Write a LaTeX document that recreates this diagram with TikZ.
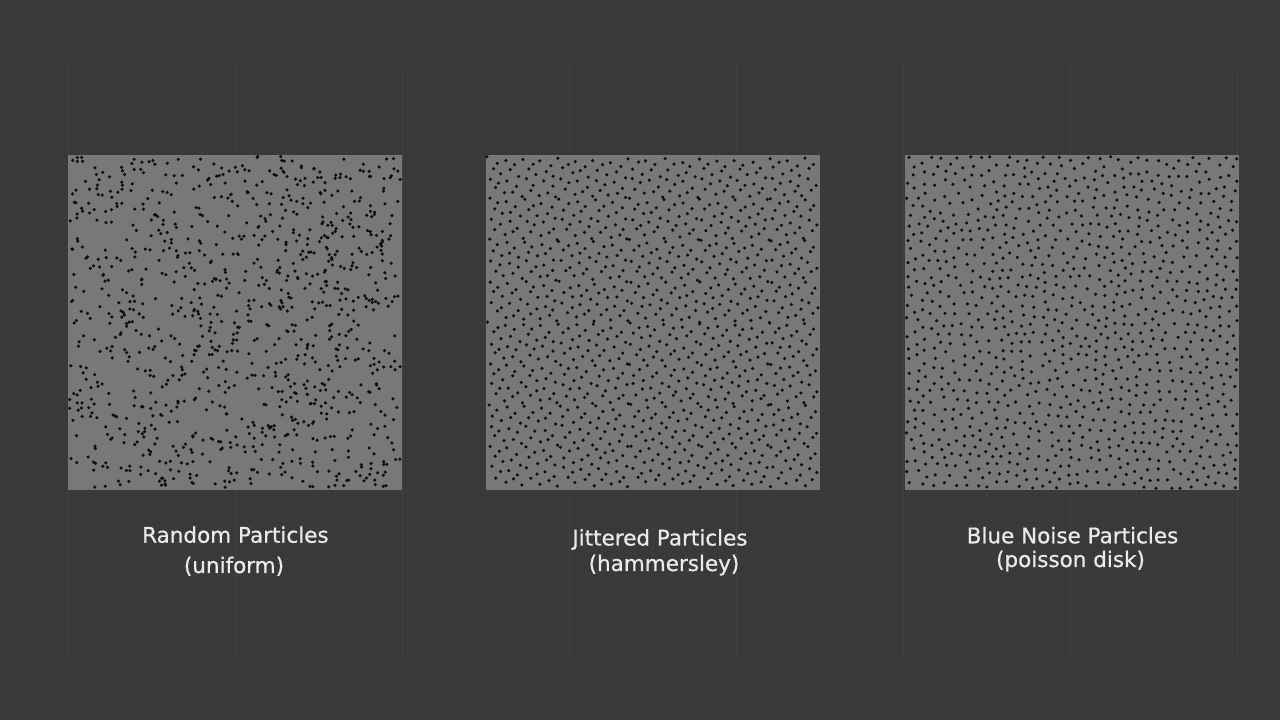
\documentclass[tikz,border=0pt]{standalone}
\usepackage{fontspec}
\newfontfamily\dejavu[FakeBold=0.7]{DejaVu Sans}
\definecolor{bg}{HTML}{393939}
\definecolor{gridminor}{HTML}{3C3C3C}
\definecolor{gridmajor}{HTML}{414141}
\definecolor{panel}{HTML}{78787B}
\definecolor{dotc}{HTML}{0E0E0E}
\definecolor{labelc}{HTML}{EAEAEA}
% ---------- random numbers (Park-Miller) ----------
\newcount\rseed \newcount\rtA \newcount\rtB
\def\nextrand{%
  \rtA=\rseed \divide\rtA by 127773
  \rtB=\numexpr\rseed-\rtA*127773\relax
  \rseed=\numexpr16807*\rtB-2836*\rtA\relax
  \ifnum\rseed<0 \advance\rseed by 2147483647 \fi}
\def\randint#1#2{\nextrand #1=\rseed \divide#1 by \numexpr2147483647/#2+1\relax}
% ---------- dot placing ----------
\newcount\dPx \newcount\dPy \newcount\dI \newcount\dJ
\newcount\dCx \newcount\dCy \newcount\pdmin
\def\putdot#1#2{\pgfpathcircle{\pgfqpoint{\dimexpr#1pt+\dPx sp*65536/100\relax}{\dimexpr720pt-#2pt-\dPy sp*65536/100\relax}}{1.75pt}}
% ---------- radical inverse (11 bits) ----------
\newcount\hA \newcount\hR \newcount\hB \newcount\hT
\def\rbit{\hT=\hA \divide\hT by 2 \ifodd\hA \advance\hR by \hB\fi \hA=\hT \divide\hB by 2 }
\def\radinv{\hA=\dI \hR=0 \hB=1024 \rbit\rbit\rbit\rbit\rbit\rbit\rbit\rbit\rbit\rbit\rbit}
% ---------- poisson disk helpers ----------
\newif\ifpdok
\def\pdtest#1,#2;{\ifnum\numexpr(\dPx-#1)*(\dPx-#1)+(\dPy-#2)*(\dPy-#2)\relax<\pdmin\relax\pdokfalse\fi}
\def\pdcell#1#2{%
  \ifpdok
    \expandafter\ifx\csname pd@\the\numexpr\dCx+#1\relax @\the\numexpr\dCy+#2\relax\endcsname\relax
    \else
      \expandafter\expandafter\expandafter\pdtest\csname pd@\the\numexpr\dCx+#1\relax @\the\numexpr\dCy+#2\relax\endcsname
    \fi
  \fi}
\def\pdrow#1{\pdcell{#1}{-2}\pdcell{#1}{-1}\pdcell{#1}{0}\pdcell{#1}{1}\pdcell{#1}{2}}
\def\pdallcheck{\pdrow{0}\pdrow{-1}\pdrow{1}\pdrow{-2}\pdrow{2}}
\tikzset{
  lbl/.style={text=labelc, font=\dejavu\fontsize{21.5}{26}\selectfont, inner sep=0pt, anchor=base},
  panelbox/.style={fill=panel, draw=none},
  gmin/.style={draw=gridminor, line width=1pt},
  gmaj/.style={draw=gridmajor, line width=1pt}
}
\begin{document}
\begin{tikzpicture}[x=1pt,y=1pt]
\fill[bg] (0,0) rectangle (1280,720);
\useasboundingbox (0,0) rectangle (1280,720);
% grid
\foreach \k in {0,...,76} \draw[gmin] ({1.2+16.7*\k},63) -- ++(0,592);
\foreach \k in {0,...,36} \draw[gmin] (0,{655-16.45*\k}) -- ++(1280,0);
\foreach \k in {0,...,7} \draw[gmaj] ({68+167*\k},63) -- ++(0,592);
% panels
\fill[panelbox] (68,230) rectangle (402,565);
\fill[panelbox] (486,230) rectangle (820,565);
\fill[panelbox] (905,230) rectangle (1239,565);
% uniform random
\begin{pgfscope}
\pgfsetfillcolor{dotc}
\rseed=20231
\dI=0
\loop
  \randint\dPx{33100}\advance\dPx by 150
  \randint\dPy{33200}\advance\dPy by 150
  \putdot{68}{155}%
  \advance\dI by 1
\ifnum\dI<1050 \repeat
\pgfusepath{fill}
\end{pgfscope}
% hammersley
\begin{pgfscope}
\pgfsetfillcolor{dotc}
\rseed=777
\dI=0
\loop
  \radinv
  \dPx=\numexpr(2*\dI+1)*33000/2400+200\relax
  \dPy=\numexpr\hR*33000/2048+250\relax
  \randint\dJ{240}\advance\dPx by \numexpr\dJ-120\relax
  \randint\dJ{240}\advance\dPy by \numexpr\dJ-120\relax
  \putdot{486}{155}%
  \advance\dI by 1
\ifnum\dI<1200 \repeat
\pgfusepath{fill}
\end{pgfscope}
% poisson disk
\begin{pgfscope}
\pgfsetfillcolor{dotc}
\rseed=4049
\pdmin=640000
\dI=0
\loop
  \randint\dPx{33100}\advance\dPx by 150
  \randint\dPy{33200}\advance\dPy by 150
  \dCx=\dPx \divide\dCx by 565
  \dCy=\dPy \divide\dCy by 565
  \pdoktrue
  \pdallcheck
  \ifpdok
    \expandafter\xdef\csname pd@\the\dCx @\the\dCy\endcsname{\the\dPx,\the\dPy;}%
    \putdot{905}{155}%
  \fi
  \advance\dI by 1
\ifnum\dI<30000 \repeat
\pgfusepath{fill}
\end{pgfscope}
% labels
\node[lbl] (t1a) at (235.4,177.3) {Random Particles};
\node[lbl] (t1b) at (234,147) {(uniform)};
\node[lbl] (t2a) at (660,174.5) {Jittered Particles};
\node[lbl] (t2b) at (664,149) {(hammersley)};
\node[lbl] (t3a) at (1072.5,176.7) {Blue Noise Particles};
\node[lbl] (t3b) at (1070.5,153) {(poisson disk)};
\end{tikzpicture}
\end{document}
